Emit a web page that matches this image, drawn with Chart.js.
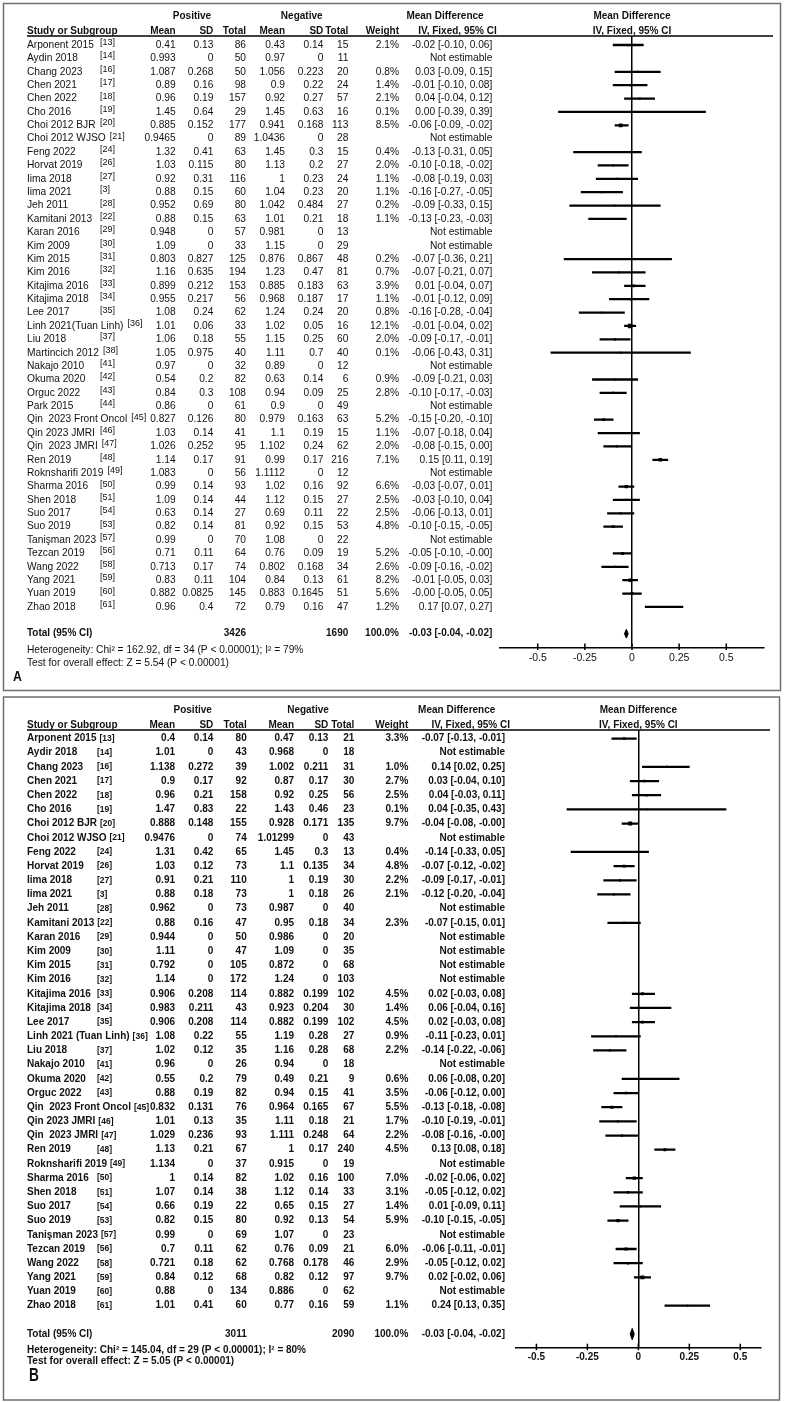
<!DOCTYPE html>
<html><head><meta charset="utf-8">
<script src="https://cdn.jsdelivr.net/npm/chart.js@4.4.1/dist/chart.umd.min.js"></script>
<style>
html,body{margin:0;padding:0;background:#fff;}
body{width:786px;height:1402px;position:relative;overflow:hidden;}
.wrap{position:absolute;left:0;width:786px;}
#wa{top:0;height:694px;}
#wb{top:694px;height:708px;}
canvas{display:block;}
</style></head><body>
<div class="wrap" id="wa"><canvas id="ca" width="786" height="694"></canvas></div>
<div class="wrap" id="wb"><canvas id="cb" width="786" height="708"></canvas></div>
<script>
// ---------------- Panel A data ----------------
const studiesA = ["Arponent 2015","Aydin 2018","Chang 2023","Chen 2021","Chen 2022","Cho 2016","Choi 2012 BJR","Choi 2012 WJSO","Feng 2022","Horvat 2019","Iima 2018","Iima 2021","Jeh 2011","Kamitani 2013","Karan 2016","Kim 2009","Kim 2015","Kim 2016","Kitajima 2016","Kitajima 2018","Lee 2017","Linh 2021(Tuan Linh)","Liu 2018","Martincich 2012","Nakajo 2010","Okuma 2020","Orguc 2022","Park 2015","Qin  2023 Front Oncol","Qin 2023 JMRI","Qin  2023 JMRI","Ren 2019","Roknsharifi 2019","Sharma 2016","Shen 2018","Suo 2017","Suo 2019","Tanişman 2023","Tezcan 2019","Wang 2022","Yang 2021","Yuan 2019","Zhao 2018"];
const refsA = [13,14,16,17,18,19,20,21,24,26,27,3,28,22,29,30,31,32,33,34,35,36,37,38,41,42,43,44,45,46,47,48,49,50,51,54,53,57,56,58,59,60,61];
const posMeanA = [0.41,0.993,1.087,0.89,0.96,1.45,0.885,0.9465,1.32,1.03,0.92,0.88,0.952,0.88,0.948,1.09,0.803,1.16,0.899,0.955,1.08,1.01,1.06,1.05,0.97,0.54,0.84,0.86,0.827,1.03,1.026,1.14,1.083,0.99,1.09,0.63,0.82,0.99,0.71,0.713,0.83,0.882,0.96];
const posSdA = [0.13,0,0.268,0.16,0.19,0.64,0.152,0,0.41,0.115,0.31,0.15,0.69,0.15,0,0,0.827,0.635,0.212,0.217,0.24,0.06,0.18,0.975,0,0.2,0.3,0,0.126,0.14,0.252,0.17,0,0.14,0.14,0.14,0.14,0,0.11,0.17,0.11,0.0825,0.4];
const posNA = [86,50,50,98,157,29,177,89,63,80,116,60,80,63,57,33,125,194,153,56,62,33,55,40,32,82,108,61,80,41,95,91,56,93,44,27,81,70,64,74,104,145,72];
const negMeanA = [0.43,0.97,1.056,0.9,0.92,1.45,0.941,1.0436,1.45,1.13,1,1.04,1.042,1.01,0.981,1.15,0.876,1.23,0.885,0.968,1.24,1.02,1.15,1.11,0.89,0.63,0.94,0.9,0.979,1.1,1.102,0.99,1.1112,1.02,1.12,0.69,0.92,1.08,0.76,0.802,0.84,0.883,0.79];
const negSdA = [0.14,0,0.223,0.22,0.27,0.63,0.168,0,0.3,0.2,0.23,0.23,0.484,0.21,0,0,0.867,0.47,0.183,0.187,0.24,0.05,0.25,0.7,0,0.14,0.09,0,0.163,0.19,0.24,0.17,0,0.16,0.15,0.11,0.15,0,0.09,0.168,0.13,0.1645,0.16];
const negNA = [15,11,20,24,57,16,113,28,15,27,24,20,27,18,13,29,48,81,63,17,20,16,60,40,12,6,25,49,63,15,62,216,12,92,27,22,53,22,19,34,61,51,47];
const weightA = [2.1,null,0.8,1.4,2.1,0.1,8.5,null,0.4,2.0,1.1,1.1,0.2,1.1,null,null,0.2,0.7,3.9,1.1,0.8,12.1,2.0,0.1,null,0.9,2.8,null,5.2,1.1,2.0,7.1,null,6.6,2.5,2.5,4.8,null,5.2,2.6,8.2,5.6,1.2];
const mdA = [-0.02,null,0.03,-0.01,0.04,0.00,-0.06,null,-0.13,-0.10,-0.08,-0.16,-0.09,-0.13,null,null,-0.07,-0.07,0.01,-0.01,-0.16,-0.01,-0.09,-0.06,null,-0.09,-0.10,null,-0.15,-0.07,-0.08,0.15,null,-0.03,-0.03,-0.06,-0.10,null,-0.05,-0.09,-0.01,-0,0.17];
const loA = [-0.10,null,-0.09,-0.10,-0.04,-0.39,-0.09,null,-0.31,-0.18,-0.19,-0.27,-0.33,-0.23,null,null,-0.36,-0.21,-0.04,-0.12,-0.28,-0.04,-0.17,-0.43,null,-0.21,-0.17,null,-0.20,-0.18,-0.15,0.11,null,-0.07,-0.10,-0.13,-0.15,null,-0.10,-0.16,-0.05,-0.05,0.07];
const hiA = [0.06,null,0.15,0.08,0.12,0.39,-0.02,null,0.05,-0.02,0.03,-0.05,0.15,-0.03,null,null,0.21,0.07,0.07,0.09,-0.04,0.02,-0.01,0.31,null,0.03,-0.03,null,-0.10,0.04,0.00,0.19,null,0.01,0.04,0.01,-0.05,null,-0,-0.02,0.03,0.05,0.27];
const totalNA = [3426,1690];
const totalWA = 100.0;
const totalEffA = [-0.03,-0.04,-0.02];
const hetA = "Heterogeneity: Chi² = 162.92, df = 34 (P < 0.00001); I² = 79%";
const testA = "Test for overall effect: Z = 5.54 (P < 0.00001)";
const rangeA = [-0.7,0.7];
const tickValsA = [-0.5,-0.25,0,0.25,0.5];

// ---------------- Panel B data ----------------
const studiesB = ["Arponent 2015","Aydir 2018","Chang 2023","Chen 2021","Chen 2022","Cho 2016","Choi 2012 BJR","Choi 2012 WJSO","Feng 2022","Horvat 2019","Iima 2018","Iima 2021","Jeh 2011","Kamitani 2013","Karan 2016","Kim 2009","Kim 2015","Kim 2016","Kitajima 2016","Kitajima 2018","Lee 2017","Linh 2021 (Tuan Linh)","Liu 2018","Nakajo 2010","Okuma 2020","Orguc 2022","Qin  2023 Front Oncol","Qin 2023 JMRI","Qin  2023 JMRI","Ren 2019","Roknsharifi 2019","Sharma 2016","Shen 2018","Suo 2017","Suo 2019","Tanişman 2023","Tezcan 2019","Wang 2022","Yang 2021","Yuan 2019","Zhao 2018"];
const refsB = [13,14,16,17,18,19,20,21,24,26,27,3,28,22,29,30,31,32,33,34,35,36,37,41,42,43,45,46,47,48,49,50,51,54,53,57,56,58,59,60,61];
const posMeanB = [0.4,1.01,1.138,0.9,0.96,1.47,0.888,0.9476,1.31,1.03,0.91,0.88,0.962,0.88,0.944,1.11,0.792,1.14,0.906,0.983,0.906,1.08,1.02,0.96,0.55,0.88,0.832,1.01,1.029,1.13,1.134,1,1.07,0.66,0.82,0.99,0.7,0.721,0.84,0.88,1.01];
const posSdB = [0.14,0,0.272,0.17,0.21,0.83,0.148,0,0.42,0.12,0.21,0.18,0,0.16,0,0,0,0,0.208,0.211,0.208,0.22,0.12,0,0.2,0.19,0.131,0.13,0.236,0.21,0,0.14,0.14,0.19,0.15,0,0.11,0.18,0.12,0,0.41];
const posNB = [80,43,39,92,158,22,155,74,65,73,110,73,73,47,50,47,105,172,114,43,114,55,35,26,79,82,76,35,93,67,37,82,38,22,80,69,62,62,68,134,60];
const negMeanB = [0.47,0.968,1.002,0.87,0.92,1.43,0.928,1.01299,1.45,1.1,1,1,0.987,0.95,0.986,1.09,0.872,1.24,0.882,0.923,0.882,1.19,1.16,0.94,0.49,0.94,0.964,1.11,1.111,1,0.915,1.02,1.12,0.65,0.92,1.07,0.76,0.768,0.82,0.886,0.77];
const negSdB = [0.13,0,0.211,0.17,0.25,0.46,0.171,0,0.3,0.135,0.19,0.18,0,0.18,0,0,0,0,0.199,0.204,0.199,0.28,0.28,0,0.21,0.15,0.165,0.18,0.248,0.17,0,0.16,0.14,0.15,0.13,0,0.09,0.178,0.12,0,0.16];
const negNB = [21,18,31,30,56,23,135,43,13,34,30,26,40,34,20,35,68,103,102,30,102,27,68,18,9,41,67,21,64,240,19,100,33,27,54,23,21,46,97,62,59];
const weightB = [3.3,null,1.0,2.7,2.5,0.1,9.7,null,0.4,4.8,2.2,2.1,null,2.3,null,null,null,null,4.5,1.4,4.5,0.9,2.2,null,0.6,3.5,5.5,1.7,2.2,4.5,null,7.0,3.1,1.4,5.9,null,6.0,2.9,9.7,null,1.1];
const mdB = [-0.07,null,0.14,0.03,0.04,0.04,-0.04,null,-0.14,-0.07,-0.09,-0.12,null,-0.07,null,null,null,null,0.02,0.06,0.02,-0.11,-0.14,null,0.06,-0.06,-0.13,-0.10,-0.08,0.13,null,-0.02,-0.05,0.01,-0.10,null,-0.06,-0.05,0.02,null,0.24];
const loB = [-0.13,null,0.02,-0.04,-0.03,-0.35,-0.08,null,-0.33,-0.12,-0.17,-0.20,null,-0.15,null,null,null,null,-0.03,-0.04,-0.03,-0.23,-0.22,null,-0.08,-0.12,-0.18,-0.19,-0.16,0.08,null,-0.06,-0.12,-0.09,-0.15,null,-0.11,-0.12,-0.02,null,0.13];
const hiB = [-0.01,null,0.25,0.10,0.11,0.43,-0,null,0.05,-0.02,-0.01,-0.04,null,0.01,null,null,null,null,0.08,0.16,0.08,0.01,-0.06,null,0.20,0.00,-0.08,-0.01,-0,0.18,null,0.02,0.02,0.11,-0.05,null,-0.01,0.02,0.06,null,0.35];
const totalNB = [3011,2090];
const totalWB = 100.0;
const totalEffB = [-0.03,-0.04,-0.02];
const hetB = "Heterogeneity: Chi² = 145.04, df = 29 (P < 0.00001); I² = 80%";
const testB = "Test for overall effect: Z = 5.05 (P < 0.00001)";
const rangeB = [-0.6,0.6];
const tickValsB = [-0.5,-0.25,0,0.25,0.5];

// ---------------- rendering ----------------
const FONT = '"Liberation Sans", Arial, Helvetica, sans-serif';
Chart.defaults.font.family = FONT;

function fmt2(v){ return ((v<0||Object.is(v,-0))?'-':'') + Math.abs(v).toFixed(2); }
function fmtCI(m,l,h){ return fmt2(m)+' ['+fmt2(l)+', '+fmt2(h)+']'; }

function drawTable(chart, d, L){
  const ctx = chart.ctx, ys = chart.scales.y, xs = chart.scales.x;
  const n = d.studies.length;
  ctx.save();
  ctx.strokeStyle = '#6e6e6e'; ctx.lineWidth = 1.5;
  ctx.strokeRect(L.box[0], L.box[1], L.box[2], L.box[3]);
  ctx.strokeStyle = '#000'; ctx.lineWidth = 1.5;
  ctx.beginPath(); ctx.moveTo(27, 36); ctx.lineTo(L.ruleEnd, 36); ctx.stroke();
  const ay = xs.top;
  d.ticks.forEach(v => { const x = xs.getPixelForValue(v); ctx.beginPath(); ctx.moveTo(x, ay-4); ctx.lineTo(x, ay+2.5); ctx.stroke(); });

  ctx.fillStyle = '#111'; ctx.textBaseline = 'middle';
  const hf = 'bold ' + L.headSize + 'px ' + FONT;
  const bf = L.bodyWeight + ' ' + L.bodySize + 'px ' + FONT;
  const rf = L.bodyWeight + ' ' + L.refSize + 'px ' + FONT;
  ctx.font = hf; ctx.textAlign = 'center';
  ctx.fillText('Positive', L.posC, 16);
  ctx.fillText('Negative', L.negC, 16);
  ctx.fillText('Mean Difference', L.mdC, 16);
  const pc = (xs.left + xs.right) / 2;
  ctx.fillText('Mean Difference', pc, 16);
  ctx.fillText('IV, Fixed, 95% CI', pc, 31);
  ctx.textAlign = 'left'; ctx.fillText('Study or Subgroup', 27, 31);
  ctx.textAlign = 'right';
  ['Mean','SD','Total','Mean','SD','Total','Weight'].forEach((t,k) => ctx.fillText(t, L.cols[k], 31));
  ctx.fillText('IV, Fixed, 95% CI', L.ivR, 31);

  for (let i = 0; i < n; i++){
    const y = ys.getPixelForValue(i+1);
    ctx.font = bf; ctx.textAlign = 'left';
    ctx.fillText(d.studies[i], 27, y);
    const nw = ctx.measureText(d.studies[i]).width;
    ctx.font = rf;
    ctx.fillText('[' + d.refs[i] + ']', Math.max(L.refX, 27 + nw + L.refGap), y + L.refDy);
    ctx.font = bf; ctx.textAlign = 'right';
    [d.pm[i], d.ps[i], d.pn[i], d.nm[i], d.ns[i], d.nn[i]].forEach((v,k) => ctx.fillText(String(v), L.cols[k], y));
    if (d.w[i] === null) {
      ctx.fillText('Not estimable', L.cols[7], y);
    } else {
      ctx.fillText(d.w[i].toFixed(1) + '%', L.cols[6], y);
      ctx.fillText(fmtCI(d.md[i], d.lo[i], d.hi[i]), L.cols[7], y);
    }
  }
  const ty = ys.getPixelForValue(n+2);
  ctx.font = hf; ctx.textAlign = 'left';
  ctx.fillText('Total (95% CI)', 27, ty);
  ctx.textAlign = 'right';
  ctx.fillText(String(d.totN[0]), L.cols[2], ty);
  ctx.fillText(String(d.totN[1]), L.cols[5], ty);
  ctx.fillText(d.totW.toFixed(1) + '%', L.cols[6], ty);
  ctx.fillText(fmtCI(d.tot[0], d.tot[1], d.tot[2]), L.cols[7], ty);
  ctx.font = bf; ctx.textAlign = 'left';
  ctx.fillText(d.het, 27, ty + L.hetDy);
  ctx.fillText(d.test, 27, ty + L.testDy);
  ctx.save();
  ctx.font = 'bold ' + L.letterSize + 'px ' + FONT;
  ctx.translate(L.letterX, ty + L.letterDy);
  ctx.scale(L.letterSx, 1);
  ctx.fillText(d.letter, 0, 0);
  ctx.restore();
  ctx.restore();
}

function buildPanel(id, d, L){
  const n = d.studies.length;
  const ciData = [], ptData = [], radii = [];
  for (let i = 0; i < n; i++){
    if (d.w[i] !== null){
      ciData.push({x:[d.lo[i], d.hi[i]], y:i+1});
      ptData.push({x:d.md[i], y:i+1});
      radii.push(1.25 + 0.16*d.w[i]);
    }
  }
  const tr = n + 2;
  const dia = [{x:d.tot[1],y:tr},{x:d.tot[0],y:tr-L.dh},{x:d.tot[2],y:tr},{x:d.tot[0],y:tr+L.dh},{x:d.tot[1],y:tr}];
  return new Chart(document.getElementById(id), {
    type: 'scatter',
    data: { datasets: [
      {type:'bar', indexAxis:'y', data:ciData, backgroundColor:'#000', borderWidth:0, barThickness:1.6, grouped:false, order:3},
      {type:'scatter', data:ptData, pointStyle:'rect', pointRadius:c => radii[c.dataIndex], pointBackgroundColor:'#000', pointBorderWidth:0, backgroundColor:'#000', borderColor:'#000', order:2},
      {type:'line', data:dia, borderColor:'#000', borderWidth:1, backgroundColor:'#000', fill:'shape', pointRadius:0, tension:0, order:1}
    ]},
    options: {
      responsive:false, animation:false, events:[],
      layout:{padding:{left:L.plotLeft, right:786-L.plotRight, top:36, bottom:L.canvasH - L.axisY - 20}},
      plugins:{legend:{display:false}, tooltip:{enabled:false}, title:{display:false}},
      scales:{
        x:{type:'linear', position:'bottom', min:d.range[0], max:d.range[1], offset:false,
           afterBuildTicks:s => { s.ticks = d.ticks.map(v => ({value:v})); },
           afterFit:s => { s.height = 20; },
           grid:{offset:false, drawOnChartArea:true, drawTicks:false, lineWidth:1.5,
                 color:c => (c.tick && c.tick.value === 0) ? '#000' : 'rgba(0,0,0,0)'},
           border:{display:true, color:'#000', width:1.5},
           ticks:{autoSkip:false, maxRotation:0, padding:4, color:'#111',
                  font:{family:FONT, size:L.tickSize, weight:L.tickWeight}, callback:v => String(v)}},
        y:{type:'linear', reverse:true, min:L.yMin, max:L.yMax, display:false, offset:false, grid:{offset:false}}
      }
    },
    plugins:[{id:'tbl_'+id, afterDraw:c => drawTable(c, d, L)}]
  });
}

buildPanel('ca', {
  studies:studiesA, refs:refsA, pm:posMeanA, ps:posSdA, pn:posNA, nm:negMeanA, ns:negSdA, nn:negNA,
  w:weightA, md:mdA, lo:loA, hi:hiA, totN:totalNA, totW:totalWA, tot:totalEffA, het:hetA, test:testA,
  letter:'A', range:rangeA, ticks:tickValsA
}, {
  canvasH:694, plotLeft:500, plotRight:764, axisY:647.5, yMin:0.327, yMax:46.03, dh:0.33,
  cols:[175.7,213.3,246,285,323.3,348.3,399,492.3], ivR:496.7, posC:192, negC:301.7, mdC:445,
  refX:100, refGap:4, refSize:9, refDy:-2.5, bodyWeight:'normal', bodySize:10.2, headSize:10,
  box:[3.5,3.5,777,687], ruleEnd:773, hetDy:16, testDy:29, letterDy:43, letterX:13, letterSize:15, letterSx:0.82,
  tickSize:10.5, tickWeight:'normal'
});

buildPanel('cb', {
  studies:studiesB, refs:refsB, pm:posMeanB, ps:posSdB, pn:posNB, nm:negMeanB, ns:negSdB, nn:negNB,
  w:weightB, md:mdB, lo:loB, hi:hiB, totN:totalNB, totW:totalWB, tot:totalEffB, het:hetB, test:testB,
  letter:'B', range:rangeB, ticks:tickValsB
}, {
  canvasH:708, plotLeft:516, plotRight:760.7, axisY:653.7, yMin:0.4, yMax:43.96, dh:0.4,
  cols:[175,213.3,246.7,294,328.3,354.3,408.3,505], ivR:510, posC:192.7, negC:308, mdC:456.7,
  refX:97, refGap:3, refSize:8.5, refDy:0, bodyWeight:'bold', bodySize:10, headSize:10,
  box:[3.5,3,776,703], ruleEnd:770, hetDy:16, testDy:27, letterDy:42, letterX:29, letterSize:19, letterSx:0.72,
  tickSize:10, tickWeight:'bold'
});
</script>
</body></html>
